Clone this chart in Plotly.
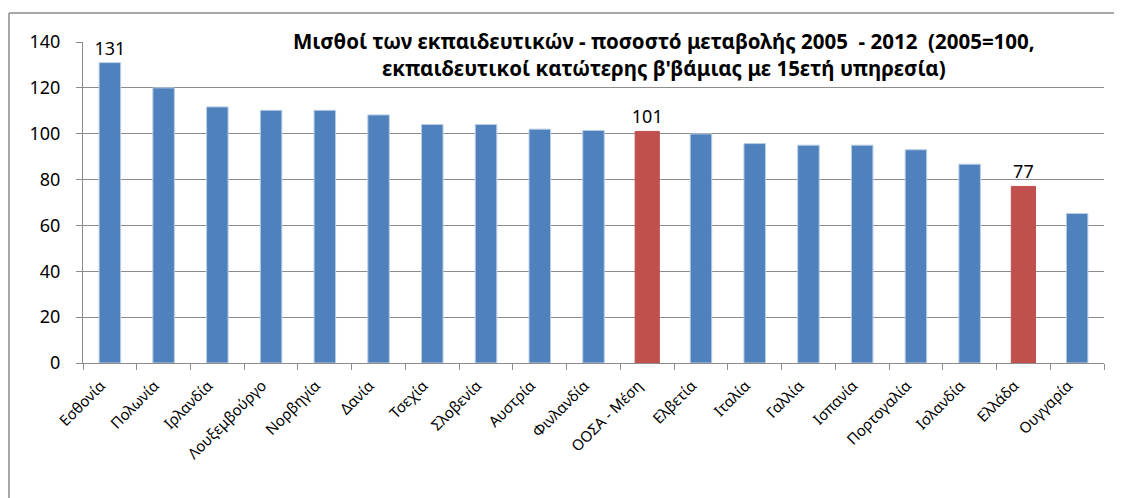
import plotly.graph_objects as go

categories = ["Εσθονία", "Πολωνία", "Ιρλανδία", "Λουξεμβούργο", "Νορβηγία", "Δανία",
              "Τσεχία", "Σλοβενία", "Αυστρία", "Φινλανδία", "ΟΟΣΑ - Μέση", "Ελβετία",
              "Ιταλία", "Γαλλία", "Ισπανία", "Πορτογαλία", "Ισλανδία", "Ελλάδα", "Ουγγαρία"]
values = [131, 120, 111.7, 110.2, 110.2, 108.2, 104.0, 104.0, 102.0, 101.4, 101,
          99.9, 95.7, 95.0, 95.0, 93.0, 86.7, 77, 65.2]
highlighted = ["ΟΟΣΑ - Μέση", "Ελλάδα"]
labelled = ["Εσθονία", "ΟΟΣΑ - Μέση", "Ελλάδα"]
y_ticks = [0, 20, 40, 60, 80, 100, 120, 140]

title_text = ("Μισθοί των εκπαιδευτικών - ποσοστό μεταβολής 2005  - 2012  (2005=100,<br>"
              "εκπαιδευτικοί κατώτερης β'βάμιας με 15ετή υπηρεσία)")

BLUE = "#4F81BD"
RED = "#C0504D"
GRID = "#8C8C8C"

colors = [RED if c in highlighted else BLUE for c in categories]
edge = ["#C0504D" if c in highlighted else "#B9CDE5" for c in categories]
widths = [0.45 if c in highlighted else 0.4 for c in categories]
texts = [str(round(v)) if c in labelled else "" for c, v in zip(categories, values)]

fig = go.Figure(go.Bar(
    x=categories, y=values,
    marker=dict(color=colors, line=dict(color=edge, width=1)),
    width=widths,
    text=texts, textposition="outside", cliponaxis=False,
    constraintext="none",
    textfont=dict(family="Noto Sans", size=18, color="#000000"),
    hoverinfo="x+y",
))

# page is offset by the default 8px body margin
OFF = 8
W, H = 1122 - OFF, 498 - OFF
L, T = 83 - OFF, 42 - OFF
R = W - (1104 - OFF)
B = H - (363 - OFF)
pw, ph = W - L - R, H - T - B

def px(x):
    return (x - OFF - L) / pw

def py(y):
    return (H - B - (y - OFF)) / ph

fig.update_layout(
    width=W, height=H,
    margin=dict(l=L, r=R, t=T, b=B, autoexpand=False),
    paper_bgcolor="white", plot_bgcolor="white",
    showlegend=False,
    bargap=0.6,
    font=dict(family="Noto Sans", color="#000000"),
    xaxis=dict(
        type="category", showgrid=False, automargin=False,
        showline=True, linecolor=GRID, linewidth=1,
        ticks="outside", tickson="boundaries", ticklen=6, tickcolor=GRID,
        tickangle=-45, tickfont=dict(size=15, family="Noto Sans"),
        ticklabelstandoff=7, ticklabelshift=-9,
    ),
    yaxis=dict(
        range=[0, 140], tickvals=y_ticks, automargin=False,
        showgrid=True, gridcolor=GRID, gridwidth=1,
        showline=True, linecolor=GRID, linewidth=1,
        ticks="outside", ticklen=6, tickcolor=GRID,
        tickfont=dict(size=18, family="Noto Sans"),
        ticklabelstandoff=12,
        zeroline=False,
    ),
    annotations=[dict(
        text=title_text, xref="paper", yref="paper",
        x=px(664), y=py(54), xanchor="center", yanchor="middle",
        showarrow=False, align="center",
        font=dict(size=20.5, family="Noto Sans", color="#000000", weight="bold"),
    )],
    shapes=[
        dict(type="line", xref="paper", yref="paper",
             x0=px(9), x1=px(1130), y0=py(13), y1=py(13),
             line=dict(color=GRID, width=1.5)),
        dict(type="line", xref="paper", yref="paper",
             x0=px(9), x1=px(9), y0=py(13), y1=py(510),
             line=dict(color=GRID, width=1.5)),
    ],
)

fig.write_html("out.html")
